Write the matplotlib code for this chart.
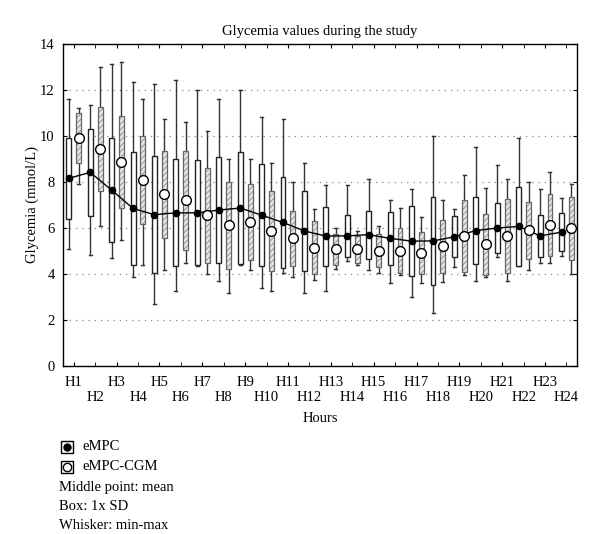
import numpy as np
import matplotlib
matplotlib.use("Agg")
import matplotlib.pyplot as plt
from matplotlib.patches import Rectangle
from matplotlib.lines import Line2D

plt.rcParams['font.family'] = ['Liberation Serif', 'DejaVu Serif']
plt.rcParams['hatch.linewidth'] = 0.6

# ---- data (mmol/L) ----
hours = ["H%d" % i for i in range(1, 25)]

empc_mean = [8.15, 8.41, 7.64, 6.84, 6.57, 6.65, 6.65, 6.77, 6.86, 6.55, 6.23, 5.86,
             5.64, 5.65, 5.70, 5.54, 5.42, 5.43, 5.61, 5.88, 5.99, 6.06, 5.65, 5.81]
empc_sd = [1.75, 1.88, 2.27, 2.47, 2.55, 2.32, 2.28, 2.30, 2.45, 2.23, 1.98, 1.73,
           1.28, 0.90, 1.04, 1.14, 1.53, 1.90, 0.90, 1.47, 1.09, 1.73, 0.92, 0.84]
empc_min = [5.07, 4.80, 4.68, 3.87, 2.68, 3.26, 4.36, 3.67, 4.40, 3.38, 4.03, 3.17,
            3.26, 4.57, 4.17, 3.59, 2.97, 2.28, 4.28, 3.67, 4.75, 4.33, 4.49, 4.78]
empc_max = [11.60, 11.32, 13.13, 12.32, 12.25, 12.43, 12.00, 11.62, 12.00, 10.83, 10.71, 8.81,
            7.88, 7.88, 8.10, 7.20, 7.68, 10.00, 6.80, 9.51, 8.71, 9.90, 7.70, 7.29]

cgm_mean = [9.90, 9.42, 8.88, 8.09, 7.45, 7.20, 6.55, 6.10, 6.26, 5.86, 5.54, 5.13,
            5.07, 5.07, 5.00, 5.00, 4.91, 5.20, 5.64, 5.28, 5.65, 5.90, 6.14, 5.99]
cgm_sd = [1.10, 1.82, 2.00, 1.92, 1.90, 2.15, 2.06, 1.90, 1.64, 1.72, 1.18, 1.15,
          0.68, 0.58, 0.71, 0.98, 0.90, 1.15, 1.58, 1.33, 1.60, 1.24, 1.35, 1.37]
cgm_min = [7.90, 6.07, 5.48, 4.38, 4.17, 4.48, 3.99, 3.17, 4.17, 3.26, 3.87, 3.75,
           4.20, 4.38, 4.04, 3.95, 3.58, 3.65, 3.94, 3.84, 3.68, 4.17, 4.48, 3.99]
cgm_max = [11.20, 13.01, 13.20, 11.60, 10.71, 10.59, 10.20, 9.01, 9.00, 8.81, 8.01, 6.80,
           6.00, 5.88, 6.07, 6.88, 6.49, 7.20, 8.29, 7.71, 8.12, 8.01, 8.42, 7.90]

fig = plt.figure(figsize=(6.0, 5.34), dpi=100)
ax = fig.add_axes([0.105, 0.315, 0.857, 0.603])

x = np.arange(1, 25)
off = 0.23
bw = 0.23
cap = 0.07


def draw_series(pos, mean, sd, mn, mx, hatched):
    for p, m, s, lo, hi in zip(pos, mean, sd, mn, mx):
        # whiskers (min-max)
        ax.plot([p, p], [lo, m - s], color="#333333", lw=1.0, zorder=2)
        ax.plot([p, p], [m + s, hi], color="#333333", lw=1.0, zorder=2)
        ax.plot([p - cap, p + cap], [lo, lo], color="#333333", lw=1.0, zorder=2)
        ax.plot([p - cap, p + cap], [hi, hi], color="#333333", lw=1.0, zorder=2)
        # box = mean +- 1 SD
        if hatched:
            ax.add_patch(Rectangle((p - bw / 2, m - s), bw, 2 * s, facecolor="#e6e6e6",
                                   edgecolor="#8a8a8a", hatch="//////", lw=0, zorder=3))
            ax.add_patch(Rectangle((p - bw / 2, m - s), bw, 2 * s, facecolor="none",
                                   edgecolor="#666666", lw=0.9, zorder=3))
        else:
            ax.add_patch(Rectangle((p - bw / 2, m - s), bw, 2 * s, facecolor="white",
                                   edgecolor="#222222", lw=1.0, zorder=3))


draw_series(x - off, empc_mean, empc_sd, empc_min, empc_max, False)
draw_series(x + off, cgm_mean, cgm_sd, cgm_min, cgm_max, True)

ax.plot(x - off, empc_mean, color="black", lw=1.0, marker="o", markersize=4.5,
        markerfacecolor="black", markeredgecolor="black", zorder=5)
ax.plot(x + off, cgm_mean, linestyle="none", marker="o", markersize=7,
        markerfacecolor="white", markeredgecolor="black", markeredgewidth=1.0, zorder=5)

ax.set_xlim(0.5, 24.5)
ax.set_ylim(0, 14)
ax.set_yticks(np.arange(0, 15, 2))
# odd hours on the first row, even hours on the second row
ax.set_xticks(x[0::2])
ax.set_xticklabels(hours[0::2])
ax.set_xticks(x[1::2], minor=True)
ax.set_xticklabels(hours[1::2], minor=True)
ax.tick_params(which="both", direction="in", top=True, right=True, length=3, labelsize=10.5)
ax.tick_params(axis="y", pad=6)
ax.tick_params(axis="x", which="major", pad=7)
ax.tick_params(axis="x", which="minor", pad=18)
for yv in range(2, 14, 2):
    ax.axhline(yv, color="#888888", lw=0.9, linestyle=(0, (1, 4)), zorder=0)
for sp in ax.spines.values():
    sp.set_linewidth(1.0)

ax.set_title("Glycemia values during the study", fontsize=10.5, pad=6)
ax.set_ylabel("Glycemia (mmol/L)", fontsize=10.5, labelpad=1)
ax.set_xlabel("Hours", fontsize=10.5, labelpad=6)

# legend below the chart: framed square holding the mean symbol
leg_items = [("eMPC", "black", 5), ("eMPC-CGM", "white", 6)]
for i, (lab, fc, ms) in enumerate(leg_items):
    yy = 1 - (447 + 20 * i) / 534
    fig.add_artist(Line2D([0.112], [yy], marker="s", markersize=8, markerfacecolor="white",
                          markeredgecolor="black", linestyle="none", transform=fig.transFigure))
    fig.add_artist(Line2D([0.112], [yy], marker="o", markersize=ms, markerfacecolor=fc,
                          markeredgecolor="black", linestyle="none", transform=fig.transFigure))
    fig.text(0.137, yy, lab, fontsize=10.5, va="center", ha="left")

notes = ["Middle point: mean", "Box: 1x SD", "Whisker: min-max"]
for i, t in enumerate(notes):
    fig.text(0.098, 0.088 - i * 0.036, t, fontsize=10.5, va="center", ha="left")

fig.savefig("out.png", dpi=100)
